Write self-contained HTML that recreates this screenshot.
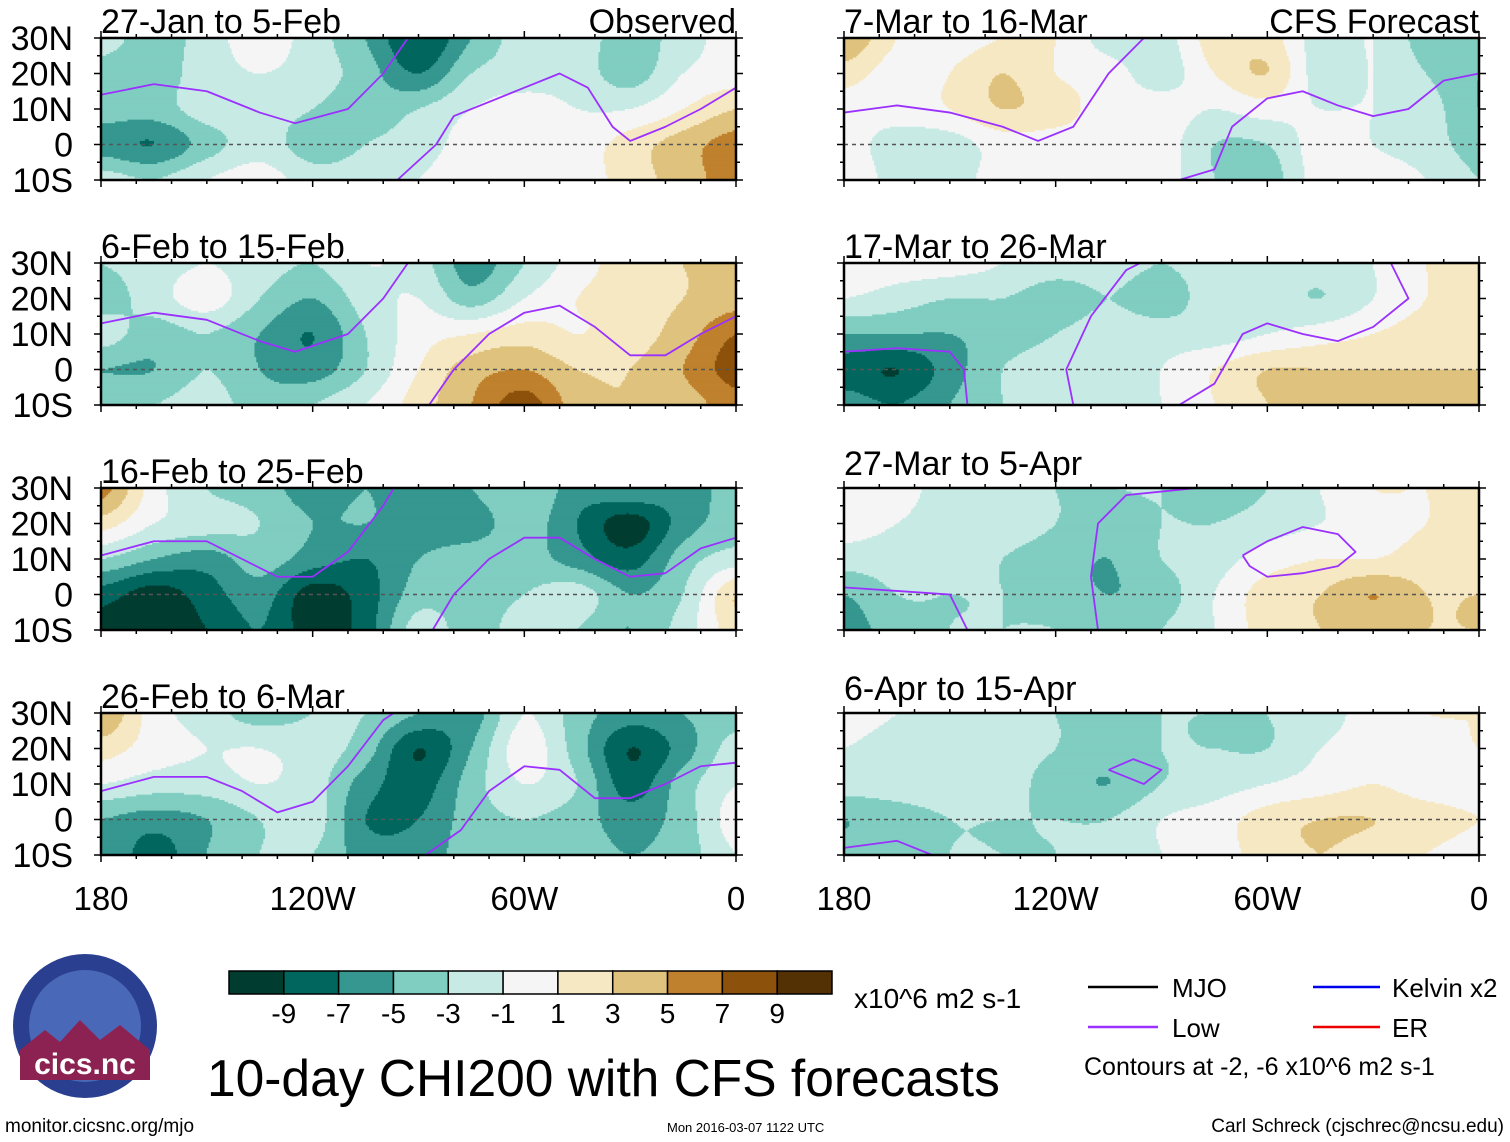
<!DOCTYPE html>
<html><head><meta charset="utf-8">
<style>
body{margin:0;background:#fff;}
svg{display:block;font-family:"Liberation Sans",Arial,sans-serif;}
</style></head>
<body>
<svg id="chart" width="1510" height="1142" viewBox="0 0 1510 1142" xmlns="http://www.w3.org/2000/svg">
<g id="panels"></g>
<g id="legend">
  <g>
    <circle cx="85" cy="1026" r="72" fill="#2a3f8f"/>
    <circle cx="85" cy="1026" r="56" fill="#4a68b8"/>
    <path d="M20 1050 L45 1030 L60 1042 L80 1020 L100 1040 L120 1025 L150 1050 L150 1080 L20 1080Z" fill="#8b2252"/>
    <text x="85" y="1074" font-size="30" fill="#fff" text-anchor="middle" font-weight="bold">cics.nc</text>
  </g>
  <g id="cbar"></g>
  <text x="854" y="1008" font-size="28">x10^6 m2 s-1</text>
  <text x="207" y="1096" font-size="51.5">10-day CHI200 with CFS forecasts</text>
  <line x1="1088" y1="987" x2="1158" y2="987" stroke="#000" stroke-width="2.5"/>
  <text x="1172" y="997" font-size="26">MJO</text>
  <line x1="1088" y1="1027" x2="1158" y2="1027" stroke="#9b30ff" stroke-width="2.5"/>
  <text x="1172" y="1037" font-size="26">Low</text>
  <line x1="1313" y1="987" x2="1380" y2="987" stroke="#0000ee" stroke-width="2.5"/>
  <text x="1392" y="997" font-size="26">Kelvin x2</text>
  <line x1="1313" y1="1027" x2="1380" y2="1027" stroke="#ee0000" stroke-width="2.5"/>
  <text x="1392" y="1037" font-size="26">ER</text>
  <text x="1084" y="1075" font-size="25">Contours at -2, -6 x10^6 m2 s-1</text>
  <text x="5" y="1132" font-size="19">monitor.cicsnc.org/mjo</text>
  <text x="667" y="1132" font-size="13">Mon 2016-03-07 1122 UTC</text>
  <text x="1504" y="1132" font-size="19" text-anchor="end">Carl Schreck (cjschrec@ncsu.edu)</text>
</g>
</svg>
<script>
const lons=[180,165,150,135,120,105,90,75,60,45,30,15,0];
const lats=[30,20,10,0,-10];
const levels=[-9,-7,-5,-3,-1,1,3,5,7,9];
const levelLabels=["-9","-7","-5","-3","-1","1","3","5","7","9"];
const colors=["#003c30","#01665e","#35978f","#80cdc1","#c7eae5","#f5f5f5","#f6e8c3","#dfc27d","#bf812d","#8c510a","#543005"];
const titles=["27-Jan to 5-Feb","6-Feb to 15-Feb","16-Feb to 25-Feb","26-Feb to 6-Mar","7-Mar to 16-Mar","17-Mar to 26-Mar","27-Mar to 5-Apr","6-Apr to 15-Apr"];
const xTickLabels=["180","120W","60W","0"];
const yTickLabels=["30N","20N","10N","0","10S"];
const g1=[[-2,-4,-2,0,-2,-5,-9,-5,-2,-2,-4,-2,0],[-4,-4,-2,-1,-2,-4,-7,-3,-2,-2,-4,-1,0],[-4,-4,-2,-2,-3,-4,-3,-1,0,-1,-1,1,3],[-6,-7,-4,-2,-4,-3,-2,0,1,0,2,4,6],[-2,-3,-1,0,-2,-2,-1,0,0,0,2,4,6]];
const g2=[[-3,-2,-1,-2,-3,-1,-2,-6,-3,0,2,3,3],[-4,-2,0,-3,-5,-2,-1,-4,-1,1,2,3,4],[-2,-4,-3,-5,-7,-3,0,1,2,1,2,4,7],[-5,-5,-3,-5,-6,-3,1,4,5,3,3,5,8],[-3,-3,-2,-4,-3,-1,2,5,8,4,3,4,6]];
const g3=[[6,0,-3,-4,-6,-5,-6,-5,-3,-6,-5,-6,-4],[2,-1,-2,-3,-5,-5,-6,-6,-4,-7,-10,-6,-4],[-3,-5,-6,-4,-6,-7,-5,-4,-4,-6,-8,-4,-2],[-8,-10,-8,-6,-10,-8,-4,-4,-3,-2,-5,-3,3],[-10,-10,-9,-7,-10,-8,-2,-4,-2,-3,-5,-2,2]];
const g4=[[5,0,-2,-4,-3,-3,-5,-6,-1,-4,-6,-5,-4],[2,0,-1,-1,-2,-4,-9,-5,0,-4,-9,-6,-2],[-1,-2,-2,-1,-2,-6,-8,-4,-1,-3,-8,-4,-1],[-5,-6,-5,-3,-2,-7,-7,-4,-3,-4,-6,-4,0],[-5,-8,-5,-3,-3,-6,-6,-4,-3,-4,-5,-4,-1]];
const g5=[[5,1,0,1,1,-2,-2,2,2,-2,-1,-4,-5],[2,0,1,3,1,0,-2,1,3,-2,-1,-3,-5],[0,0,1,3,2,0,0,-1,0,-1,-1,-2,-5],[0,-2,-2,0,0,0,0,-3,-3,0,-1,-2,-4],[1,-2,-2,0,0,0,0,-3,-4,0,0,-1,-3]];
const g6=[[0,0,0,-1,-2,-2,-3,-2,-2,-2,-1,1,2],[-1,-2,-3,-3,-4,-3,-4,-2,-2,-3,-1,1,2],[-5,-5,-5,-4,-3,-2,-2,-2,-1,0,1,2,2],[-8,-9,-6,-3,-2,-2,-1,1,3,3,3,3,3],[-6,-7,-5,-3,-2,-2,-1,1,3,3,3,3,3]];
const g7=[[1,0,-2,-2,-3,-3,-3,-4,-3,-1,1,1,2],[0,-1,-2,-2,-3,-4,-3,-3,-2,-1,0,1,2],[-2,-2,-2,-3,-4,-5,-3,-2,0,1,1,2,2],[-5,-3,-3,-3,-4,-5,-4,-1,2,3,5,3,3],[-6,-4,-3,-3,-3,-4,-3,-1,2,3,3,3,3]];
const g8=[[0,-1,-2,-2,-3,-3,-3,-3,-3,-2,0,1,1],[-1,-2,-2,-2,-3,-4,-3,-3,-3,-1,0,0,1],[-2,-2,-2,-2,-4,-5,-3,-2,-1,0,1,0,0],[-5,-4,-3,-3,-3,-3,-1,0,2,3,3,2,1],[-4,-4,-3,-3,-3,-2,-1,0,2,3,2,1,0]];
const grids=[g1,g2,g3,g4,g5,g6,g7,g8];
const low1=[[[180,14],[165,17],[150,15],[135,9],[125,6],[110,10],[100,20],[93,30]],[[96,-10],[85,0],[80,8],[70,12],[60,16],[50,20],[42,16],[35,5],[30,1],[20,5],[10,10],[0,16]]];
const low2=[[[180,13],[165,16],[150,14],[135,8],[125,5],[110,10],[100,20],[93,30]],[[87,-10],[80,0],[70,10],[60,16],[50,18],[40,12],[30,4],[20,4],[10,10],[0,15]]];
const low3=[[[180,11],[165,15],[150,15],[140,10],[130,5],[120,5],[110,12],[100,25],[97,30]],[[86,-10],[80,0],[70,10],[60,16],[50,16],[40,10],[30,5],[20,6],[10,13],[0,16]]];
const low4=[[[180,8],[165,12],[150,12],[140,8],[130,2],[120,5],[110,15],[100,28],[97,30]],[[88,-10],[78,-3],[70,8],[60,15],[50,14],[40,6],[30,6],[20,10],[10,15],[0,16]]];
const low5=[[[180,9],[165,11],[150,9],[135,5],[125,1],[115,5],[105,20],[95,30]],[[85,-10],[75,-7],[70,5],[60,13],[50,15],[40,11],[30,8],[20,10],[10,18],[0,20]]];
const low6=[[[180,5],[165,6],[150,5],[146,0],[145,-10]],[[115,-10],[117,0],[110,15],[100,28],[96,30]],[[85,-10],[75,-4],[67,10],[60,13],[50,10],[40,8],[30,12],[20,20],[25,30]]];
const low7=[[[180,2],[165,1],[150,0],[145,-10]],[[108,-10],[110,5],[108,20],[100,28],[80,30]],[[67,11],[60,15],[50,19],[40,17],[35,12],[40,8],[50,6],[60,5],[65,8],[67,11]]];
const low8=[[[180,-8],[165,-6],[155,-10]],[[105,14],[98,17],[90,14],[95,10],[105,14]]];
const lows=[low1,low2,low3,low4,low5,low6,low7,low8];

const NS="http://www.w3.org/2000/svg";
function mk(tag,attrs,parent){const e=document.createElementNS(NS,tag);for(const k in attrs)e.setAttribute(k,attrs[k]);parent.appendChild(e);return e;}
function colorFor(v){let i=0;while(i<levels.length&&v>=levels[i])i++;return colors[i];}
function cr(p0,p1,p2,p3,t){return 0.5*((2*p1)+(-p0+p2)*t+(2*p0-5*p1+4*p2-p3)*t*t+(-p0+3*p1-3*p2+p3)*t*t*t);}
function gv(g,j,i){j=Math.max(0,Math.min(4,j));i=Math.max(0,Math.min(12,i));return g[j][i];}
function sample(g,lon,lat){
  const fi=(180-lon)/15, fj=(30-lat)/10;
  const i=Math.min(11,Math.floor(fi)), j=Math.min(3,Math.floor(fj));
  const a=fi-i,b=fj-j;
  const rows=[];
  for(let dj=-1;dj<=2;dj++){
    rows.push(cr(gv(g,j+dj,i-1),gv(g,j+dj,i),gv(g,j+dj,i+1),gv(g,j+dj,i+2),a));
  }
  return cr(rows[0],rows[1],rows[2],rows[3],b);
}
const colX=[101,844], rowY=[38,263,488,713], PW=635, PH=142;
const panelsG=document.getElementById('panels');
for(let p=0;p<8;p++){
  const x0=colX[p<4?0:1], y0=rowY[p%4];
  const xs=lon=>x0+(180-lon)/180*PW;
  const ys=lat=>y0+(30-lat)/40*PH;
  const pg=mk('g',{},panelsG);
  
  
  const field=mk('g',{},pg);
  
  
  const step=0.5;
  for(let lat=30;lat>-10+1e-9;lat-=step){
    let runStart=180, runColor=null;
    for(let lon=180;lon>=-1e-9;lon-=step){
      let c= lon>1e-9 ? colorFor(sample(grids[p],lon-step/2,lat-step/2)) : null;
      if(c!==runColor){
        if(runColor){
          const r=mk('rect',{x:xs(runStart),y:ys(lat),width:xs(lon)-xs(runStart)+0.5,height:ys(lat-step)-ys(lat)+0.5,fill:runColor},field);
          
          
        }
        runStart=lon;runColor=c;
      }
    }
  }
  const eq=mk('line',{x1:x0,x2:x0+PW,y1:ys(0),y2:ys(0),stroke:'#555','stroke-width':1.5,'stroke-dasharray':'4,4'},pg);
  
  
  lows[p].forEach(line=>{
    const pl=mk('polyline',{points:line.map(q=>xs(q[0])+','+ys(q[1])).join(' '),fill:'none',stroke:'#9b30ff','stroke-width':1.8,'stroke-linejoin':'round'},pg);
    
    
  });
  const fr=mk('rect',{x:x0,y:y0,width:PW,height:PH,fill:'none',stroke:'#000','stroke-width':2.5},pg);
  
  
  for(let lon=180;lon>=0;lon-=10){
    const major=lon%60===0, L=major?7:4;
    mk('line',{x1:xs(lon),x2:xs(lon),y1:y0,y2:y0-L,stroke:'#000','stroke-width':1.5},pg);
    mk('line',{x1:xs(lon),x2:xs(lon),y1:y0+PH,y2:y0+PH+L,stroke:'#000','stroke-width':1.5},pg);
  }
  for(let lat=30;lat>=-10;lat-=5){
    const L=lat%10===0?7:4;
    mk('line',{x1:x0,x2:x0-L,y1:ys(lat),y2:ys(lat),stroke:'#000','stroke-width':1.5},pg);
    mk('line',{x1:x0+PW,x2:x0+PW+L,y1:ys(lat),y2:ys(lat),stroke:'#000','stroke-width':1.5},pg);
  }
  const t=mk('text',{x:x0,y:p===6||p===7?y0-13:y0-5,'font-size':34},pg);
  t.textContent=titles[p];
  
  
  if(p===0||p===4){
    const s=mk('text',{x:x0+PW,y:y0-5,'font-size':34,'text-anchor':'end'},pg);
    s.textContent=p===0?'Observed':'CFS Forecast';
    
    
  }
  if(p<4){
    yTickLabels.forEach((lab,k)=>{
      const yl=mk('text',{x:73,y:ys(30-10*k)+12,'font-size':34,'text-anchor':'end'},pg);
      yl.textContent=lab;
      
      
    });
  }
  if(p%4===3){
    xTickLabels.forEach((lab,k)=>{
      const xl=mk('text',{x:xs(180-60*k),y:910,'font-size':33,'text-anchor':'middle'},pg);
      xl.textContent=lab;
      
      
    });
  }
}
const cb=document.getElementById('cbar');
const bw=(832-229)/colors.length;
colors.forEach((c,i)=>{
  const r=mk('rect',{x:229+i*bw,y:971,width:bw,height:23,fill:c,stroke:'#000','stroke-width':1.5},cb);
  
  
});
levelLabels.forEach((l,i)=>{
  const t=mk('text',{x:229+(i+1)*bw,y:1023,'font-size':28,'text-anchor':'middle'},cb);
  t.textContent=l;
  
  
});
</script>
</body></html>
